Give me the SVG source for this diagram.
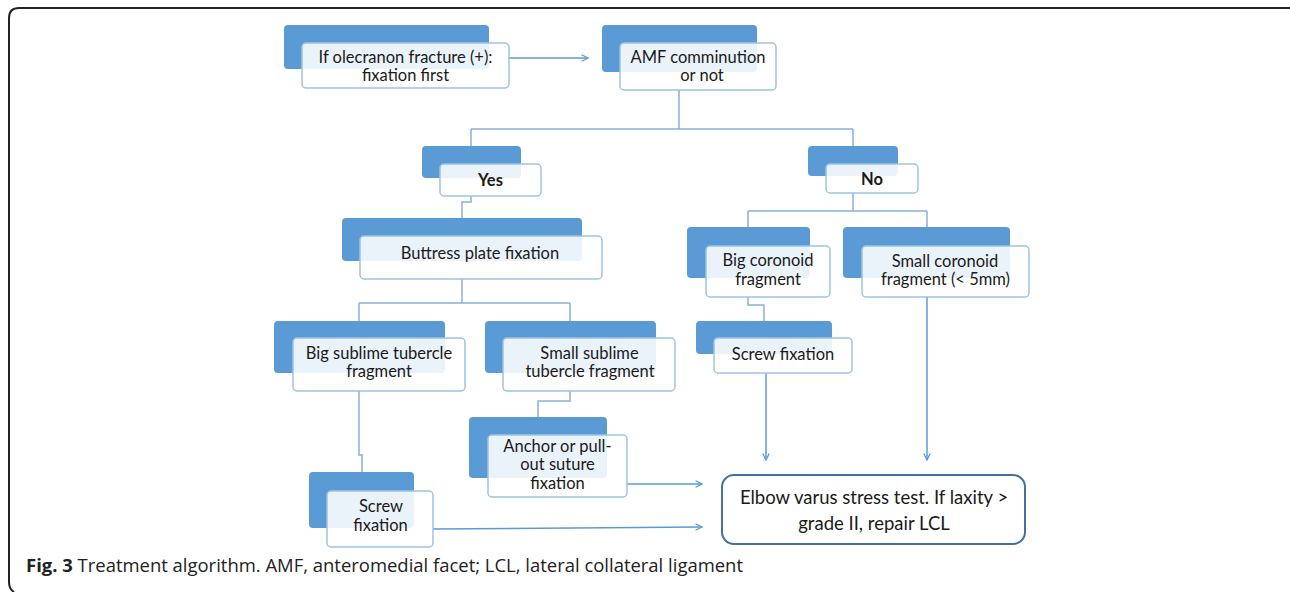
<svg xmlns="http://www.w3.org/2000/svg" width="1290" height="592" viewBox="0 0 1290 592">
<defs>
<style>
.bk{fill:#5b9bd5}
.fr{fill:#ffffff;fill-opacity:0.88;stroke:#9dc3e6;stroke-width:1.5}
.t{font-family:Lato,"Open Sans",sans-serif;font-size:16.5px;fill:#1a1a1a;text-anchor:middle}
.b{font-weight:bold}
.ln{fill:none;stroke:#86b0dd;stroke-width:1.5}
.ar{fill:none;stroke:#5b9bd5;stroke-width:1.5;marker-end:url(#ah)}
</style>
<marker id="ah" viewBox="0 0 10 10" refX="9" refY="5" markerWidth="8" markerHeight="8" markerUnits="userSpaceOnUse" orient="auto">
<path d="M1,1 L9,5 L1,9" fill="none" stroke="#5b9bd5" stroke-width="1.6"/>
</marker>
</defs>
<rect width="1290" height="592" fill="#ffffff"/>
<path d="M1290,8 H19 Q9,8 9,18 V582 Q9,589 14,592" fill="none" stroke="#222" stroke-width="2"/>

<g id="connectors">
<path class="ar" d="M509,58 H588"/>
<path class="ln" d="M679,90 V129 M471,129 H853 M471,129 V146 M853,129 V146"/>
<path class="ln" d="M471,196 V202 H462 V218"/>
<path class="ln" d="M462,279 V303 M359,303 H570 M359,303 V321 M570,303 V321"/>
<path class="ln" d="M570,391 V401 H538 V417"/>
<path class="ln" d="M359,391 V455 H362 V472"/>
<path class="ln" d="M853,193 V211 M748,211 H927 M748,211 V227 M927,211 V227"/>
<path class="ln" d="M748,297 V305 H764 V321"/>
<path class="ar" d="M766,373 V460"/>
<path class="ar" d="M927,297 V460"/>
<path class="ar" d="M627,484 H702"/>
<path class="ar" d="M433,529 L702,527"/>
</g>

<g id="n-olecranon">
<rect class="bk" x="284" y="25" width="205" height="44" rx="4"/>
<rect class="fr" x="302" y="43" width="207" height="45" rx="4"/>
<text class="t" x="405.5" y="62.5">If olecranon fracture (+):</text>
<text class="t" x="405.5" y="81">fixation first</text>
</g>

<g id="n-amf">
<rect class="bk" x="602" y="25" width="155" height="47" rx="4"/>
<rect class="fr" x="620" y="43" width="156" height="47" rx="4"/>
<text class="t" x="698" y="62.5">AMF comminution</text>
<text class="t" x="702" y="81">or not</text>
</g>

<g id="n-yes">
<rect class="bk" x="422" y="146" width="99" height="32" rx="4"/>
<rect class="fr" x="440" y="164" width="101" height="32" rx="4"/>
<text class="t b" x="490.5" y="186">Yes</text>
</g>

<g id="n-no">
<rect class="bk" x="808" y="146" width="90" height="30" rx="4"/>
<rect class="fr" x="826" y="164" width="92" height="29" rx="4"/>
<text class="t b" x="872" y="185">No</text>
</g>

<g id="n-buttress">
<rect class="bk" x="342" y="218" width="240" height="43" rx="4"/>
<rect class="fr" x="360" y="236" width="242" height="43" rx="4"/>
<text class="t" x="480" y="259">Buttress plate fixation</text>
</g>

<g id="n-big-sublime">
<rect class="bk" x="274" y="321" width="171" height="52" rx="4"/>
<rect class="fr" x="293" y="338" width="172" height="53" rx="4"/>
<text class="t" x="379" y="359">Big sublime tubercle</text>
<text class="t" x="379" y="377">fragment</text>
</g>

<g id="n-small-sublime">
<rect class="bk" x="485" y="321" width="171" height="52" rx="4"/>
<rect class="fr" x="503" y="338" width="172" height="53" rx="4"/>
<text class="t" x="589.5" y="359">Small sublime</text>
<text class="t" x="590" y="377">tubercle fragment</text>
</g>

<g id="n-anchor">
<rect class="bk" x="469" y="417" width="138" height="61" rx="4"/>
<rect class="fr" x="488" y="435" width="139" height="62" rx="4"/>
<text class="t" x="557.5" y="452">Anchor or pull-</text>
<text class="t" x="557.5" y="470">out suture</text>
<text class="t" x="557.5" y="489">fixation</text>
</g>

<g id="n-screw-left">
<rect class="bk" x="309" y="472" width="105" height="56" rx="4"/>
<rect class="fr" x="327" y="491" width="106" height="56" rx="4"/>
<text class="t" x="381" y="512">Screw</text>
<text class="t" x="380.5" y="531">fixation</text>
</g>

<g id="n-big-coronoid">
<rect class="bk" x="687" y="227" width="123" height="51" rx="4"/>
<rect class="fr" x="706" y="246" width="124" height="51" rx="4"/>
<text class="t" x="768" y="266">Big coronoid</text>
<text class="t" x="768" y="285">fragment</text>
</g>

<g id="n-small-coronoid">
<rect class="bk" x="843" y="227" width="167" height="51" rx="4"/>
<rect class="fr" x="862" y="246" width="167" height="51" rx="4"/>
<text class="t" x="945" y="267">Small coronoid</text>
<text class="t" x="945.5" y="285">fragment (&lt; 5mm)</text>
</g>

<g id="n-screw-right">
<rect class="bk" x="696" y="321" width="136" height="33" rx="4"/>
<rect class="fr" x="714" y="338" width="138" height="35" rx="4"/>
<text class="t" x="783" y="360">Screw fixation</text>
</g>

<g id="n-final">
<rect x="722" y="475" width="303" height="69" rx="12" fill="#ffffff" stroke="#41719c" stroke-width="2"/>
<text class="t" x="874" y="504" style="font-size:18.5px">Elbow varus stress test. If laxity &gt;</text>
<text class="t" x="874" y="530" style="font-size:18.5px">grade II, repair LCL</text>
</g>

<text x="26" y="572" textLength="717" lengthAdjust="spacingAndGlyphs" style="font-family:'Open Sans',Lato,sans-serif;font-size:18px;fill:#222"><tspan font-weight="bold">Fig. 3</tspan> Treatment algorithm. AMF, anteromedial facet; LCL, lateral collateral ligament</text>
</svg>
